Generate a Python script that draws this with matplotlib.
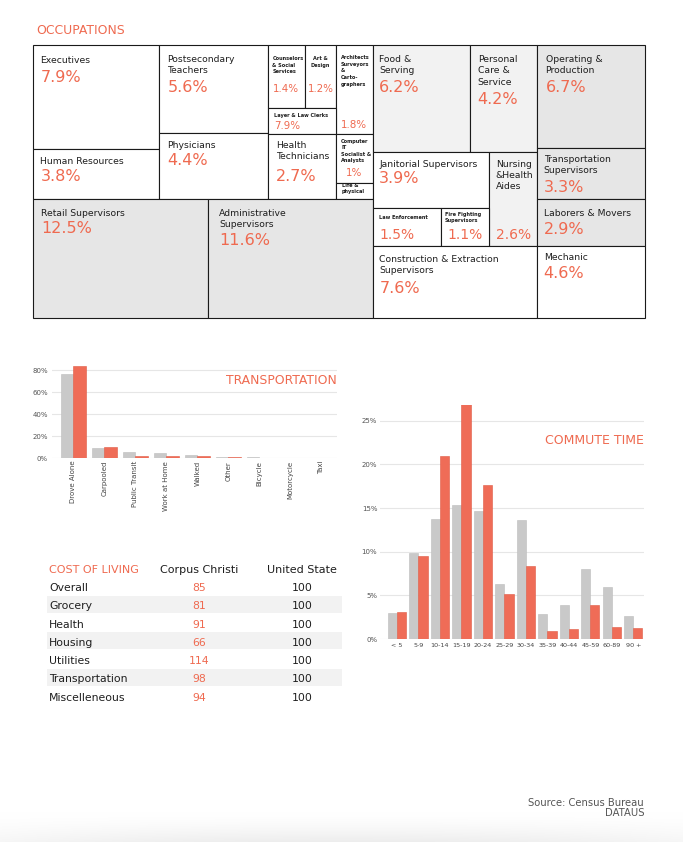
import matplotlib
matplotlib.use('Agg')
import matplotlib.pyplot as plt
from matplotlib.patches import Rectangle
import numpy as np

plt.rcParams['font.family'] = ['DejaVu Sans']

ORANGE = '#ef6a50'
GREY_BAR = '#c9c9c9'
RED_BAR = '#ef6c57'
TXT = '#1e1e1e'

# ---------------- data ----------------
occ_names = [
    "Executives", "Human Resources", "Postsecondary\nTeachers", "Physicians",
    "Counselors\n& Social\nServices", "Art &\nDesign",
    "Architects\nSurveyors\n&\nCarto-\ngraphers", "Layer & Law Clerks",
    "Health\nTechnicians", "Computer\nIT\nSocialist &\nAnalysts", "Life &\nphysical",
    "Retail Supervisors", "Administrative\nSupervisors",
    "Food &\nServing", "Personal\nCare &\nService", "Operating &\nProduction",
    "Janitorial Supervisors", "Nursing\n&Health\nAides", "Transportation\nSupervisors",
    "Law Enforcement", "Fire Fighting\nSupervisors", "Laborers & Movers",
    "Construction & Extraction\nSupervisors", "Mechanic",
]
occ_values = [7.9, 3.8, 5.6, 4.4, 1.4, 1.2, 1.8, 7.9, 2.7, 1.0, None,
              12.5, 11.6, 6.2, 4.2, 6.7, 3.9, 2.6, 3.3, 1.5, 1.1, 2.9, 7.6, 4.6]

transport_modes = ["Drove Alone", "Carpooled", "Public Transit", "Work at Home",
                   "Walked", "Other", "Bicycle", "Motorcycle", "Taxi"]
transport_us = [76.4, 9.2, 5.1, 4.4, 2.7, 1.1, 0.6, 0.3, 0.1]
transport_city = [83.6, 9.6, 1.6, 1.6, 1.9, 0.8, 0.4, 0.3, 0.2]
transport_ticks = [0, 20, 40, 60, 80]

commute_bins = ["< 5", "5-9", "10-14", "15-19", "20-24", "25-29", "30-34",
                "35-39", "40-44", "45-59", "60-89", "90 +"]
commute_us = [3.0, 9.9, 13.8, 15.4, 14.7, 6.3, 13.65, 2.9, 3.9, 8.0, 6.0, 2.6]
commute_city = [3.1, 9.5, 21.0, 27.0, 17.6, 5.2, 8.35, 0.9, 1.2, 3.9, 1.4, 1.3]
commute_ticks = [0, 5, 10, 15, 20, 25]

col_categories = ["Overall", "Grocery", "Health", "Housing", "Utilities",
                  "Transportation", "Miscelleneous"]
col_city = [85, 81, 91, 66, 114, 98, 94]
col_us = [100, 100, 100, 100, 100, 100, 100]
col_headers = ["COST OF LIVING", "Corpus Christi", "United State"]

# ---------------- treemap layout (pixel geometry) ----------------
W_, G1, G2 = 'white', '#f2f2f2', '#e6e6e6'
BIG = dict(ls=6.7, lw='normal', ps=11.5, step=11.3, ha='left')
SMALL = dict(ls=3.6, lw='bold', ps=7.4, step=6.6, ha='left')
occ_layout = [
    dict(BIG, rect=(33, 45, 159, 149), fill=W_, tx=40.5, ly=63.3, py=82.3),
    dict(BIG, rect=(33, 149, 159, 199), fill=W_, tx=40.5, ly=164, py=180.7),
    dict(BIG, rect=(159, 45, 268, 133), fill=W_, tx=167.5, ly=62.3, py=92.3, step=11),
    dict(BIG, rect=(159, 133, 268, 199), fill=W_, tx=167.5, ly=148.3, py=165),
    dict(SMALL, rect=(268, 45, 305, 108), fill=W_, tx=272.5, ly=60, py=92.3),
    dict(SMALL, rect=(305, 45, 336, 108), fill=W_, tx=320.5, ly=60, py=92.3, ha='center'),
    dict(SMALL, rect=(336, 45, 373, 134), fill=W_, tx=341, ly=59.3, py=128.3),
    dict(SMALL, rect=(268, 108, 336, 134), fill=W_, tx=274, ly=116.7, py=129),
    dict(BIG, rect=(268, 134, 336, 199), fill=W_, tx=276, ly=148.3, py=181, step=11),
    dict(SMALL, rect=(336, 134, 373, 183), fill=W_, tx=341, ly=142.7, py=176,
         px=354.5, pha='center', step=6.5),
    dict(SMALL, rect=(336, 183, 373, 199), fill=W_, tx=341.5, ly=187, py=None, step=6.3),
    dict(BIG, rect=(33, 199, 208, 318), fill=G2, tx=41, ly=215.7, py=233.3),
    dict(BIG, rect=(208, 199, 373, 318), fill=G2, tx=219, ly=215.7, py=245, step=11),
    dict(BIG, rect=(373, 45, 470, 152), fill=G1, tx=379.3, ly=61.7, py=92.3, step=11.6),
    dict(BIG, rect=(470, 45, 537, 152), fill=G1, tx=477.7, ly=61.7, py=104, step=11.6),
    dict(BIG, rect=(537, 45, 645, 148), fill=G2, tx=545.5, ly=61.7, py=92.3, step=11.6),
    dict(BIG, rect=(373, 152, 489, 208), fill=W_, tx=379.3, ly=167.3, py=183.3),
    dict(BIG, rect=(489, 152, 537, 246), fill=G1, tx=495.7, ly=167.3, py=239.3, ps=10, step=10.9),
    dict(BIG, rect=(537, 148, 645, 199), fill=G2, tx=543.7, ly=161.7, py=191.7, step=11.6),
    dict(SMALL, rect=(373, 208, 441, 246), fill=W_, tx=379.3, ly=219, py=239.3, ps=10),
    dict(SMALL, rect=(441, 208, 489, 246), fill=W_, tx=445, ly=215.7, py=239.3, ps=10, px=447),
    dict(BIG, rect=(537, 199, 645, 246), fill=G2, tx=543.7, ly=215.7, py=234.3),
    dict(BIG, rect=(373, 246, 537, 318), fill=W_, tx=379.3, ly=261.7, py=293.3, step=11.6),
    dict(BIG, rect=(537, 246, 645, 318), fill=W_, tx=543.7, ly=260, py=278.3),
]

FW, FH = 683, 842
fig = plt.figure(figsize=(FW / 100, FH / 100), dpi=100)
ax = fig.add_axes([0, 0, 1, 1])
ax.set_xlim(0, FW)
ax.set_ylim(FH, 0)
ax.axis('off')

# bottom soft shadow
gy = np.linspace(0, 1, 40)[:, None]
gx = np.linspace(-1, 1, 200)[None, :]
shade = (gy ** 1.5) * (1 - 0.5 * gx ** 2)
img = np.ones((40, 200, 3)) - shade[..., None] * 0.07
ax.imshow(img, extent=(0, FW, FH, 812), aspect='auto', zorder=0, interpolation='bilinear')

ax.text(36, 34, "OCCUPATIONS", fontsize=8.9, color=ORANGE, va='baseline')

for name, val, L in zip(occ_names, occ_values, occ_layout):
    x0, y0, x1, y1 = L['rect']
    ax.add_patch(Rectangle((x0, y0), x1 - x0, y1 - y0, facecolor=L['fill'],
                           edgecolor='#1a1a1a', lw=0.8, zorder=1))
    for i, line in enumerate(name.split('\n')):
        ax.text(L['tx'], L['ly'] + i * L['step'], line, fontsize=L['ls'],
                fontweight=L['lw'], ha=L['ha'], va='baseline', color=TXT, zorder=3)
    if val is not None and L['py'] is not None:
        ax.text(L.get('px', L['tx']), L['py'], f"{val:g}%", fontsize=L['ps'],
                color=ORANGE, ha=L.get('pha', L['ha']), va='baseline', zorder=3)

# ---------------- cost of living table ----------------
row_y0, row_dy = 591, 18.3
ax.text(49, 573.3, col_headers[0], fontsize=8, color=ORANGE, va='baseline')
ax.text(199, 573.3, col_headers[1], fontsize=8, color=TXT, va='baseline', ha='center')
ax.text(302, 573.3, col_headers[2], fontsize=8, color=TXT, va='baseline', ha='center')
for i, (cat, c, u) in enumerate(zip(col_categories, col_city, col_us)):
    yb = row_y0 + i * row_dy
    if i % 2 == 1:
        ax.add_patch(Rectangle((47, yb - 13.5), 295, 17, facecolor='#f2f2f2',
                               edgecolor='none', zorder=1))
    ax.text(49, yb, cat, fontsize=7.8, color=TXT, va='baseline', zorder=3)
    ax.text(199, yb, str(c), fontsize=7.8, color=ORANGE, va='baseline', ha='center', zorder=3)
    ax.text(302, yb, str(u), fontsize=7.8, color=TXT, va='baseline', ha='center', zorder=3)

# source
ax.text(644, 805.7, "Source: Census Bureau", fontsize=7.2, color='#555555', ha='right', va='baseline')
ax.text(644, 816.5, "DATAUS", fontsize=7.2, color='#555555', ha='right', va='baseline')


def px_axes(x0, y0, x1, y1):
    return fig.add_axes([x0 / FW, 1 - y1 / FH, (x1 - x0) / FW, (y1 - y0) / FH])


def style(a):
    for s in a.spines.values():
        s.set_visible(False)
    a.set_facecolor('none')
    a.grid(axis='y', color='#e6e6e6', lw=0.8)
    a.set_axisbelow(True)
    a.tick_params(length=0)


# ---------------- transportation ----------------
at = px_axes(52, 363, 337, 458)
style(at)
xt = np.arange(len(transport_modes))
at.bar(xt - 0.2, transport_us, 0.4, color=GREY_BAR, edgecolor='#bdbdbd', lw=0.4)
at.bar(xt + 0.2, transport_city, 0.4, color=RED_BAR, edgecolor='#e05a45', lw=0.4)
at.set_xlim(-0.69, 8.5)
at.set_ylim(0, 86.4)
at.set_yticks(transport_ticks)
at.set_yticklabels([f"{t}%" for t in transport_ticks], fontsize=5, color='#555555')
at.set_xticks(xt)
at.set_xticklabels(transport_modes, rotation=90, fontsize=5, color='#444444')
at.tick_params(axis='y', pad=3)
at.tick_params(axis='x', pad=2)
at.text(1.0, 0.775, "TRANSPORTATION", transform=at.transAxes, ha='right',
        va='baseline', fontsize=8.9, color=ORANGE)

# ---------------- commute time ----------------
ac = px_axes(380, 405, 644, 639)
style(ac)
xc = np.arange(len(commute_bins))
ac.bar(xc - 0.21, commute_us, 0.42, color=GREY_BAR, edgecolor='#bdbdbd', lw=0.4)
ac.bar(xc + 0.21, commute_city, 0.42, color=RED_BAR, edgecolor='#e05a45', lw=0.4)
ac.set_xlim(-0.79, 11.49)
ac.set_ylim(0, 26.8)
ac.set_yticks(commute_ticks)
ac.set_yticklabels([f"{t}%" for t in commute_ticks], fontsize=5, color='#555555')
ac.set_xticks(xc)
ac.set_xticklabels(commute_bins, fontsize=4.6, color='#444444')
ac.tick_params(axis='y', pad=2)
ac.tick_params(axis='x', pad=3)
ac.text(1.0, (639 - 444.3) / 234, "COMMUTE TIME", transform=ac.transAxes, ha='right',
        va='baseline', fontsize=9, color=ORANGE)

fig.savefig('out.png', dpi=100)
